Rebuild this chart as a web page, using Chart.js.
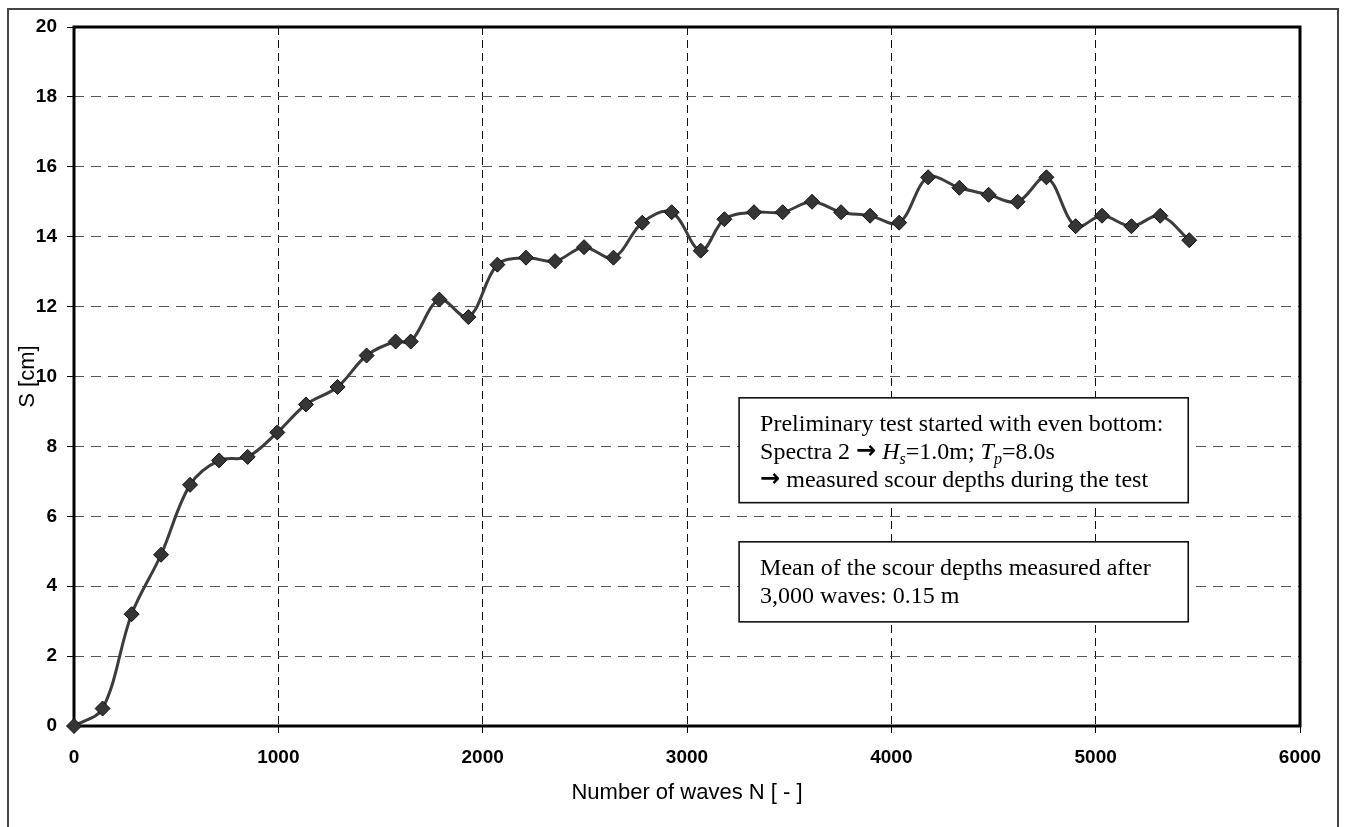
<!DOCTYPE html>
<html>
<head>
<meta charset="utf-8">
<title>Scour depth development</title>
<script src="https://cdn.jsdelivr.net/npm/chart.js@4/dist/chart.umd.min.js"></script>
<style>
  html, body { margin: 0; padding: 0; background: #fff; }
  #wrap { width: 1347px; height: 827px; position: relative; }
  canvas { display: block; }
</style>
</head>
<body>
<div id="wrap"><canvas id="c" width="1347" height="827"></canvas></div>
<script>
// Number of waves N at each measurement
const waves = [0, 140, 282, 426, 568, 710, 850, 995, 1135, 1290,
               1432, 1574, 1648, 1788, 1930, 2072, 2212, 2354, 2496, 2640,
               2781, 2925, 3067, 3183, 3328, 3468, 3612, 3754, 3896, 4038,
               4180, 4333, 4476, 4618, 4759, 4902, 5031, 5175, 5316, 5458];

// Measured scour depth S [cm]
const scourDepth = [0, 0.5, 3.2, 4.9, 6.9, 7.6, 7.7, 8.4, 9.2, 9.7,
                    10.6, 11.0, 11.0, 12.2, 11.7, 13.2, 13.4, 13.3, 13.7, 13.4,
                    14.4, 14.7, 13.6, 14.5, 14.7, 14.7, 15.0, 14.7, 14.6, 14.4,
                    15.7, 15.4, 15.2, 15.0, 15.7, 14.3, 14.6, 14.3, 14.6, 13.9];

// Axis ticks
const xTicks = [0, 1000, 2000, 3000, 4000, 5000, 6000];
const yTicks = [0, 2, 4, 6, 8, 10, 12, 14, 16, 18, 20];

const xTitle = 'Number of waves N [ - ]';
const yTitle = 'S [cm]';

// Text boxes (rich text segments per line)
const noteTest = [
  [{ t: 'Preliminary test started with even bottom:' }],
  [{ t: 'Spectra 2 ' }, { t: '\u2192', arrow: true }, { t: ' ' }, { t: 'H', i: true }, { t: 's', i: true, sub: true },
   { t: '=1.0m; ' }, { t: 'T', i: true }, { t: 'p', i: true, sub: true }, { t: '=8.0s' }],
  [{ t: '\u2192', arrow: true }, { t: ' measured scour depths during the test' }]
];
const noteMean = [
  [{ t: 'Mean of the scour depths measured after' }],
  [{ t: '3,000 waves: 0.15 m' }]
];

const SANS = '"Liberation Sans", Arial, Helvetica, sans-serif';
const SERIF = '"Liberation Serif", "Times New Roman", Times, serif';

const points = waves.map((n, k) => ({ x: n, y: scourDepth[k] }));

// White page, outer frame
const pageFrame = {
  id: 'pageFrame',
  beforeDraw(chart) {
    const ctx = chart.ctx;
    ctx.save();
    ctx.fillStyle = '#fff';
    ctx.fillRect(0, 0, chart.width, chart.height);
    ctx.strokeStyle = '#444';
    ctx.lineWidth = 2;
    ctx.beginPath();
    ctx.moveTo(8, chart.height + 5);
    ctx.lineTo(8, 9);
    ctx.lineTo(1338, 9);
    ctx.lineTo(1338, chart.height + 5);
    ctx.stroke();
    ctx.restore();
  }
};

// Heavy border round the plotting area
const plotBorder = {
  id: 'plotBorder',
  beforeDatasetsDraw(chart) {
    const { ctx, chartArea: a } = chart;
    ctx.save();
    ctx.strokeStyle = '#000';
    ctx.lineWidth = 3;
    ctx.strokeRect(a.left, a.top, a.right - a.left, a.bottom - a.top);
    ctx.restore();
  }
};

function drawRichLine(ctx, segs, x, y, size) {
  let cx = x;
  segs.forEach(s => {
    let font;
    let dy = 0;
    if (s.arrow) {
      font = 'bold ' + size + 'px "DejaVu Sans", sans-serif';
      dy = -1;
    } else {
      const fs = s.sub ? Math.round(size * 0.68) : size;
      const style = (s.i ? 'italic ' : '') + (s.b ? 'bold ' : '');
      font = style + fs + 'px ' + SERIF;
      dy = s.sub ? size * 0.22 : 0;
    }
    ctx.font = font;
    ctx.fillText(s.t, cx, y + dy);
    cx += ctx.measureText(s.t).width;
  });
}

function drawNote(chart, lines, x0Val, x1Val, yTopVal, yBotVal) {
  const { ctx, scales } = chart;
  const x0 = scales.x.getPixelForValue(x0Val);
  const x1 = scales.x.getPixelForValue(x1Val);
  const y0 = scales.y.getPixelForValue(yTopVal);
  const y1 = scales.y.getPixelForValue(yBotVal);
  ctx.save();
  ctx.fillStyle = '#fff';
  ctx.fillRect(x0, y0, x1 - x0, y1 - y0);
  ctx.strokeStyle = '#111';
  ctx.lineWidth = 1.6;
  ctx.strokeRect(x0, y0, x1 - x0, y1 - y0);
  ctx.fillStyle = '#000';
  ctx.textBaseline = 'alphabetic';
  ctx.textAlign = 'left';
  lines.forEach((segs, k) => {
    drawRichLine(ctx, segs, x0 + 21, y0 + 33 + k * 28, 24);
  });
  ctx.restore();
}

// Annotation boxes placed in data coordinates
const notes = {
  id: 'notes',
  afterDatasetsDraw(chart) {
    drawNote(chart, noteTest, 3255, 5453, 9.39, 6.39);
    drawNote(chart, noteMean, 3255, 5453, 5.27, 2.98);
  }
};

new Chart(document.getElementById('c'), {
  type: 'line',
  data: {
    datasets: [{
      data: points,
      borderColor: '#3c3c3c',
      borderWidth: 3,
      backgroundColor: '#353535',
      pointStyle: 'rectRot',
      pointRadius: 7.5,
      pointBorderColor: '#111',
      pointBorderWidth: 1,
      pointBackgroundColor: '#353535',
      tension: 0.35,
      fill: false,
      clip: false
    }]
  },
  options: {
    responsive: false,
    animation: false,
    events: [],
    layout: { padding: { top: 27, right: 47, left: 0, bottom: 0 } },
    plugins: { legend: { display: false }, tooltip: { enabled: false } },
    scales: {
      x: {
        type: 'linear',
        min: 0,
        max: 6000,
        afterBuildTicks(s) { s.ticks = xTicks.map(v => ({ value: v })); },
        afterFit(s) { s.height = 101; },
        ticks: {
          color: '#000',
          font: { family: SANS, size: 19, weight: 'bold' },
          padding: 13,
          maxRotation: 0,
          callback: v => String(v)
        },
        grid: {
          color: '#111',
          lineWidth: 1,
          tickLength: 7,
          tickColor: '#000',
          tickWidth: 1,
          tickBorderDash: []
        },
        border: { display: false, dash: [8, 5] },
        title: {
          display: true,
          text: xTitle,
          color: '#000',
          font: { family: SANS, size: 22, weight: 'normal' },
          padding: { top: 0, bottom: 21 }
        }
      },
      y: {
        min: 0,
        max: 20,
        afterBuildTicks(s) { s.ticks = yTicks.map(v => ({ value: v })); },
        afterFit(s) { s.width = 74; },
        ticks: {
          color: '#000',
          font: { family: SANS, size: 19, weight: 'bold' },
          padding: 10,
          callback: v => String(v)
        },
        grid: {
          color: '#555',
          lineWidth: 1,
          tickLength: 7,
          tickColor: '#000',
          tickWidth: 1,
          tickBorderDash: []
        },
        border: { display: false, dash: [10, 7] },
        title: {
          display: true,
          text: yTitle,
          color: '#000',
          font: { family: SANS, size: 22, weight: 'normal' },
          padding: { top: 15, bottom: 0 }
        }
      }
    }
  },
  plugins: [pageFrame, plotBorder, notes]
});
</script>
</body>
</html>
